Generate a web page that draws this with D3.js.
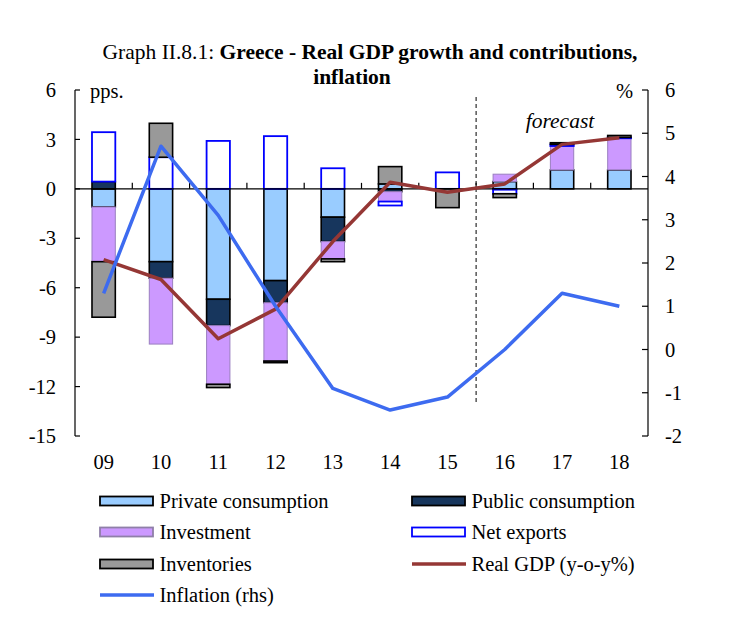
<!DOCTYPE html>
<html><head><meta charset="utf-8">
<script src="https://cdn.jsdelivr.net/npm/d3@7"></script>
<style>
body{margin:0;background:#fff}
svg{display:block}
text{font-family:"Liberation Serif","Times New Roman",serif;fill:#000}
</style>
</head><body>
<svg id="chart" width="729" height="630"></svg>
<script>
// ---- data ----
const years = ["09","10","11","12","13","14","15","16","17","18"];
const privateConsumption = [-1.1, -4.42, -6.7, -5.57, -1.72, 0.3, 0, 0.44, 1.15, 1.15];
const publicConsumption  = [0.44, -1.0, -1.6, -1.34, -1.48, -0.17, 0, -0.05, 0, 0];
const investment         = [-3.32, -4.0, -3.56, -3.54, -1.05, -0.6, 0, 0.45, 1.45, 1.92];
const netExports         = [3.0, 1.92, 2.91, 3.2, 1.25, -0.24, 1.0, -0.25, 0.1, 0.05];
const inventories        = [-3.37, 2.06, -0.2, -0.1, -0.17, 1.05, -1.14, -0.23, 0.1, 0.12];
const realGDP            = [-4.3, -5.5, -9.1, -7.3, -3.2, 0.4, -0.2, 0.3, 2.7, 3.1];
const inflation          = [1.3, 4.7, 3.1, 1.0, -0.9, -1.4, -1.1, 0.0, 1.3, 1.0];
const leftTicks  = [6, 3, 0, -3, -6, -9, -12, -15];
const rightTicks = [6, 5, 4, 3, 2, 1, 0, -1, -2];
const forecastStart = "16";

const seriesKeys = ["private","public","investment","netExports","inventories"];
const seriesNames = {
  private: "Private consumption", public: "Public consumption",
  investment: "Investment", netExports: "Net exports", inventories: "Inventories"
};
const seriesStyle = {
  private:     {fill:"#99CCFF", stroke:"#000", sw:1.6},
  public:      {fill:"#17365D", stroke:"#000", sw:1.6},
  investment:  {fill:"#CC99FF", stroke:"#9A7FC0", sw:1},
  netExports:  {fill:"#FFFFFF", stroke:"#0000FF", sw:1.8},
  inventories: {fill:"#999999", stroke:"#000", sw:1.6}
};
const table = years.map((y,i)=>({year:y, private:privateConsumption[i], public:publicConsumption[i],
  investment:investment[i], netExports:netExports[i], inventories:inventories[i]}));

// ---- layout ----
const L = 75, R = 648, T = 90, B = 436;
const svg = d3.select("#chart");
const x = d3.scaleBand().domain(years).range([L, R]).paddingInner(0.593).paddingOuter(0.2965);
const yL = d3.scaleLinear().domain([-15, 6]).range([B, T]);
const yR = d3.scaleLinear().domain([-2, 6]).range([B, T]);
const cx = d => x(d) + x.bandwidth()/2;
const FS = "20.5px";

// title
const title = svg.append("text").attr("x", 370).attr("y", 59).attr("text-anchor","middle").style("font-size","21.5px");
title.append("tspan").text("Graph II.8.1: ");
title.append("tspan").attr("font-weight","bold").text("Greece - Real GDP growth and contributions,");
svg.append("text").attr("x", 352).attr("y", 84).attr("text-anchor","middle").attr("font-weight","bold")
  .style("font-size","21.5px").text("inflation");

// bars
const stacked = d3.stack().keys(seriesKeys).offset(d3.stackOffsetDiverging)(table);
stacked.forEach(s => {
  const st = seriesStyle[s.key];
  svg.append("g").selectAll("rect").data(s.filter(d => d[1] !== d[0])).join("rect")
    .attr("x", d => x(d.data.year))
    .attr("width", x.bandwidth())
    .attr("y", d => yL(Math.max(d[0], d[1])))
    .attr("height", d => Math.abs(yL(d[0]) - yL(d[1])))
    .attr("fill", st.fill).attr("stroke", st.stroke).attr("stroke-width", st.sw);
});

// zero line + category ticks
svg.append("line").attr("x1", L).attr("x2", R).attr("y1", yL(0)).attr("y2", yL(0))
  .attr("stroke","#000").attr("stroke-width",1.3);
svg.append("g").selectAll("line").data(years.slice(1)).join("line")
  .attr("x1", d => x(d) - x.step()*x.paddingInner()/2).attr("x2", d => x(d) - x.step()*x.paddingInner()/2)
  .attr("y1", yL(0)).attr("y2", yL(0) - 6).attr("stroke","#000").attr("stroke-width",1.2);

// forecast divider
const fx = x(forecastStart) - x.step()*x.paddingInner()/2;
svg.append("line").attr("x1", fx).attr("x2", fx).attr("y1", 97).attr("y2", 402)
  .attr("stroke","#000").attr("stroke-width",1).attr("stroke-dasharray","4,3");
svg.append("text").attr("x", 560).attr("y", 120).attr("dy","0.35em").attr("text-anchor","middle")
  .attr("font-style","italic").style("font-size","21.5px").text("forecast");

// lines
const gdpLine = d3.line().x((d,i)=>cx(years[i])).y(d=>yL(d));
svg.append("path").datum(realGDP).attr("d", gdpLine).attr("fill","none")
  .attr("stroke","#953735").attr("stroke-width",3.5).attr("stroke-linejoin","round");
const inflLine = d3.line().x((d,i)=>cx(years[i])).y(d=>yR(d));
svg.append("path").datum(inflation).attr("d", inflLine).attr("fill","none")
  .attr("stroke","#3D6BF0").attr("stroke-width",3.5).attr("stroke-linejoin","round");

// left axis
const axL = svg.append("g");
axL.append("line").attr("x1",L).attr("x2",L).attr("y1",T).attr("y2",B).attr("stroke","#000").attr("stroke-width",1.2);
axL.selectAll("line.t").data(leftTicks).join("line").attr("class","t")
  .attr("x1",L).attr("x2",L+5).attr("y1",d=>yL(d)).attr("y2",d=>yL(d)).attr("stroke","#000").attr("stroke-width",1.2);
axL.selectAll("text").data(leftTicks).join("text")
  .attr("x",56).attr("y",d=>yL(d)).attr("dy","0.35em").attr("text-anchor","end").style("font-size",FS).text(d=>d);

// right axis
const axR = svg.append("g");
axR.append("line").attr("x1",R).attr("x2",R).attr("y1",T).attr("y2",B).attr("stroke","#000").attr("stroke-width",1.2);
axR.selectAll("line.t").data(rightTicks).join("line").attr("class","t")
  .attr("x1",R-6).attr("x2",R).attr("y1",d=>yR(d)).attr("y2",d=>yR(d)).attr("stroke","#000").attr("stroke-width",1.2);
axR.selectAll("text").data(rightTicks).join("text")
  .attr("x",665).attr("y",d=>yR(d)).attr("dy","0.35em").attr("text-anchor","start").style("font-size",FS).text(d=>d);

svg.append("text").attr("x",90).attr("y",91).attr("dy","0.35em").style("font-size",FS).text("pps.");
svg.append("text").attr("x",633).attr("y",91).attr("dy","0.35em").attr("text-anchor","end").style("font-size",FS).text("%");

// x labels
svg.append("g").selectAll("text").data(years).join("text")
  .attr("x",d=>cx(d)).attr("y",462).attr("dy","0.35em").attr("text-anchor","middle").style("font-size",FS).text(d=>d);

// legend
const legendItems = [
  {type:"rect", key:"private", col:0, row:0},
  {type:"rect", key:"public", col:1, row:0},
  {type:"rect", key:"investment", col:0, row:1},
  {type:"rect", key:"netExports", col:1, row:1},
  {type:"rect", key:"inventories", col:0, row:2},
  {type:"line", name:"Real GDP (y-o-y%)", color:"#953735", col:1, row:2},
  {type:"line", name:"Inflation (rhs)", color:"#3D6BF0", col:0, row:3}
];
const rowY = [501, 532, 564, 595];
const colX = [100, 412];
legendItems.forEach(it => {
  const gx = colX[it.col], gy = rowY[it.row];
  if (it.type === "rect") {
    const st = seriesStyle[it.key];
    svg.append("rect").attr("x",gx).attr("y",gy-4.5).attr("width",53).attr("height",9)
      .attr("fill",st.fill).attr("stroke", it.key==="investment" ? "#8F7FA8" : st.stroke).attr("stroke-width",1.8);
  } else {
    svg.append("line").attr("x1",gx).attr("x2",gx+54).attr("y1",gy).attr("y2",gy)
      .attr("stroke",it.color).attr("stroke-width",3.5);
  }
  svg.append("text").attr("x",gx+59.5).attr("y",gy).attr("dy","0.35em").style("font-size",FS)
    .text(it.type==="rect" ? seriesNames[it.key] : it.name);
});
</script>
</body></html>
